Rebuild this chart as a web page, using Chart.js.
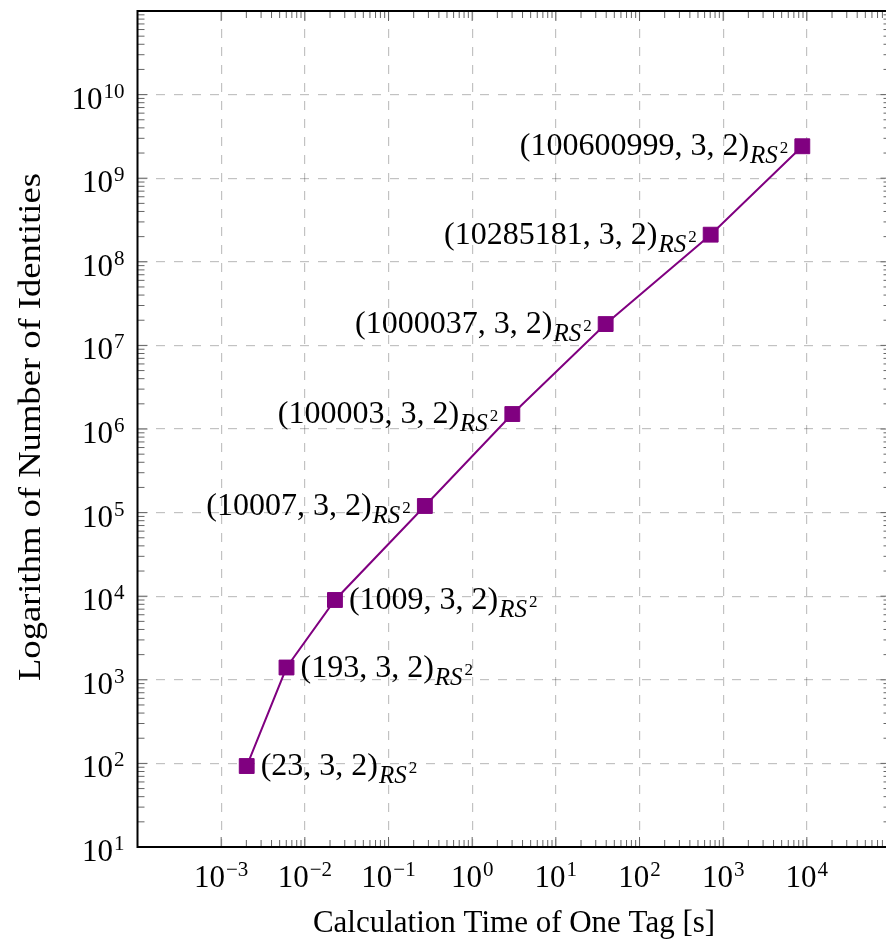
<!DOCTYPE html>
<html>
<head>
<meta charset="utf-8">
<script src="https://cdn.jsdelivr.net/npm/chart.js@4.4.1/dist/chart.umd.min.js"></script>
<style>
  html, body { margin: 0; padding: 0; overflow: hidden; background: #fff; }
</style>
</head>
<body>
<canvas id="myChart" width="894" height="945"></canvas>
<script>
// values
var timeSec = [0.00202, 0.00604, 0.0229, 0.272, 3.02, 39.4, 709, 8830];
var identities = [93, 1403, 9010, 120000, 1510000, 18000000, 211000000, 2410000000];
var tagPrimes = ['23', '193', '1009', '10007', '100003', '1000037', '10285181', '100600999'];
var labelSide = ['right', 'right', 'right', 'left', 'left', 'left', 'left', 'left'];

var xTickExp = [-3, -2, -1, 0, 1, 2, 3, 4];
var yTickExp = [1, 2, 3, 4, 5, 6, 7, 8, 9, 10];
var minorSteps = [2, 3, 4, 5, 6, 7, 8, 9];

var xTitle = 'Calculation Time of One Tag [s]';
var yTitle = 'Logarithm of Number of Identities';

var SERIF = '"Liberation Serif", "DejaVu Serif", serif';
var PURPLE = '#800080';

function decadeTicks(exps) {
    return exps.map(function (e) { return { value: Math.pow(10, e) }; });
}

function drawPower(ctx, exp, x, y, align) {
    var base = '10';
    var sup = exp < 0 ? '\u2212' + (-exp) : String(exp);
    ctx.font = '31px ' + SERIF;
    var wb = ctx.measureText(base).width;
    ctx.font = '21px ' + SERIF;
    var ws = ctx.measureText(sup).width;
    var total = wb + 1 + ws;
    var left = align === 'center' ? x - total / 2 : x - total;
    ctx.font = '31px ' + SERIF;
    ctx.fillText(base, left, y);
    ctx.font = '21px ' + SERIF;
    ctx.fillText(sup, left + wb + 1, y - 11);
}

function drawTagLabel(ctx, prime, px, py, side) {
    var main = '(' + prime + ', 3, 2)';
    ctx.font = '32px ' + SERIF;
    var wm = ctx.measureText(main).width;
    ctx.font = 'italic 25px ' + SERIF;
    var wr = ctx.measureText('RS').width;
    ctx.font = '17px ' + SERIF;
    var w2 = ctx.measureText('2').width;
    var total = wm + 1 + wr + 2 + w2;
    var left = side === 'right' ? px + 14 : px - 14 - total;
    ctx.font = '32px ' + SERIF;
    ctx.fillText(main, left, py + 9);
    ctx.font = 'italic 25px ' + SERIF;
    ctx.fillText('RS', left + wm + 1, py + 17);
    ctx.font = '17px ' + SERIF;
    ctx.fillText('2', left + wm + 1 + wr + 2, py + 7);
}

var axesPlugin = {
    id: 'pgfAxes',
    afterDatasetsDraw: function (chart) {
        var ctx = chart.ctx;
        var area = chart.chartArea;
        var xs = chart.scales.x, ys = chart.scales.y;
        ctx.save();

        // inward ticks on all four sides
        ctx.strokeStyle = '#666';
        ctx.lineWidth = 1;
        ctx.beginPath();
        xTickExp.forEach(function (e) {
            var px = xs.getPixelForValue(Math.pow(10, e));
            ctx.moveTo(px, area.bottom); ctx.lineTo(px, area.bottom - 10);
            ctx.moveTo(px, area.top); ctx.lineTo(px, area.top + 10);
            minorSteps.forEach(function (m) {
                var v = m * Math.pow(10, e);
                if (v >= xs.max) return;
                var mx = xs.getPixelForValue(v);
                ctx.moveTo(mx, area.bottom); ctx.lineTo(mx, area.bottom - 7);
                ctx.moveTo(mx, area.top); ctx.lineTo(mx, area.top + 7);
            });
        });
        yTickExp.forEach(function (e) {
            var py = ys.getPixelForValue(Math.pow(10, e));
            ctx.moveTo(area.left, py); ctx.lineTo(area.left + 10, py);
            ctx.moveTo(area.right, py); ctx.lineTo(area.right - 10, py);
            minorSteps.forEach(function (m) {
                var my = ys.getPixelForValue(m * Math.pow(10, e));
                ctx.moveTo(area.left, my); ctx.lineTo(area.left + 7, my);
                ctx.moveTo(area.right, my); ctx.lineTo(area.right - 7, my);
            });
        });
        ctx.stroke();

        // frame
        ctx.strokeStyle = '#000';
        ctx.lineWidth = 2;
        ctx.strokeRect(area.left, area.top, area.right - area.left, area.bottom - area.top);

        // tick labels
        ctx.fillStyle = '#000';
        ctx.textAlign = 'left';
        ctx.textBaseline = 'alphabetic';
        xTickExp.forEach(function (e) {
            drawPower(ctx, e, xs.getPixelForValue(Math.pow(10, e)), area.bottom + 40, 'center');
        });
        yTickExp.forEach(function (e) {
            drawPower(ctx, e, area.left - 13, ys.getPixelForValue(Math.pow(10, e)) + 14, 'right');
        });

        // axis titles
        ctx.font = '31px ' + SERIF;
        ctx.textAlign = 'center';
        ctx.fillText(xTitle, (area.left + area.right) / 2, 932);

        ctx.save();
        ctx.translate(40, (area.top + area.bottom) / 2 - 2);
        ctx.rotate(-Math.PI / 2);
        ctx.font = '32px ' + SERIF;
        var tw = ctx.measureText(yTitle).width;
        ctx.scale(508 / tw, 1);
        ctx.fillText(yTitle, 0, 0);
        ctx.restore();

        // point labels
        ctx.textAlign = 'left';
        var meta = chart.getDatasetMeta(0);
        meta.data.forEach(function (pt, i) {
            drawTagLabel(ctx, tagPrimes[i], pt.x, pt.y, labelSide[i]);
        });

        ctx.restore();
    }
};

function createChart() {
    var ctx = document.getElementById('myChart');

    var points = timeSec.map(function (t, i) {
        return { x: t, y: identities[i] };
    });

    var data = {
        datasets: [{
            data: points,
            borderColor: PURPLE,
            backgroundColor: PURPLE,
            borderWidth: 2,
            pointStyle: 'rect',
            pointRadius: 10.5,
            pointBorderWidth: 1,
            tension: 0
        }]
    };

    var gridStyle = {
        color: 'rgba(0, 0, 0, 0.24)',
        lineWidth: 1.2,
        drawTicks: false,
        borderDash: [9, 9]
    };

    var option = {
        responsive: false,
        animation: false,
        layout: {
            autoPadding: false,
            padding: { left: 137.5, right: 3.5, top: 11, bottom: 98 }
        },
        plugins: {
            legend: { display: false },
            tooltip: { enabled: false }
        },
        scales: {
            x: {
                type: 'logarithmic',
                min: 1e-4,
                max: 1e5,
                afterBuildTicks: function (scale) { scale.ticks = decadeTicks(xTickExp); },
                ticks: { display: false },
                grid: gridStyle,
                border: { display: false, dash: [9, 9] }
            },
            y: {
                type: 'logarithmic',
                min: 10,
                max: 1e11,
                afterBuildTicks: function (scale) { scale.ticks = decadeTicks(yTickExp.slice(1)); },
                ticks: { display: false },
                grid: gridStyle,
                border: { display: false, dash: [9, 9] }
            }
        }
    };

    new Chart(ctx, {
        type: 'line',
        data: data,
        options: option,
        plugins: [axesPlugin]
    });
}

createChart();
</script>
</body>
</html>
